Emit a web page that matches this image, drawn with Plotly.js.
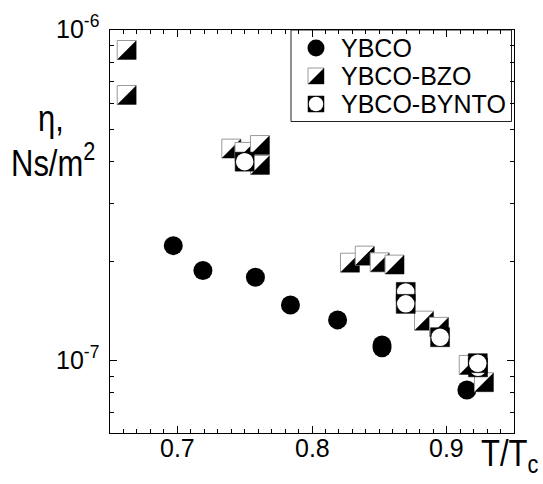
<!DOCTYPE html>
<html><head><meta charset="utf-8">
<script src="https://cdn.plot.ly/plotly-3.0.1.min.js"></script>
<style>html,body{margin:0;padding:0;background:#fff}</style>
</head><body>
<div id="chart" style="width:543px;height:484px"></div>
<script>
// ---- data ----
const seriesNames = ["YBCO", "YBCO-BZO", "YBCO-BYNTO"];
const ybcoT   = [0.697, 0.719, 0.758, 0.784, 0.819, 0.852, 0.852, 0.915];
const ybcoEta = [2.23e-7, 1.875e-7, 1.79e-7, 1.476e-7, 1.33e-7, 1.117e-7, 1.095e-7, 8.17e-8];
const bzoT    = [0.6624, 0.6624, 0.7401, 0.7499, 0.7614, 0.7614, 0.8282, 0.8392, 0.8503, 0.8613, 0.8832, 0.8943, 0.9164, 0.9277];
const bzoEta  = [8.70e-7, 6.36e-7, 4.38e-7, 4.28e-7, 4.49e-7, 3.91e-7, 1.98e-7, 2.08e-7, 1.985e-7, 1.954e-7, 1.323e-7, 1.267e-7, 9.72e-8, 8.62e-8];
const byntoT  = [0.7500, 0.8696, 0.8696, 0.8951, 0.9233, 0.9231];
const byntoEta= [4.0e-7, 1.616e-7, 1.487e-7, 1.179e-7, 9.56e-8, 9.84e-8];
const xTickVals = [0.7, 0.8, 0.9];
const xTickText = ["0.7", "0.8", "0.9"];
const yTickVals = [1e-7, 1e-6];
const yTickText = ["10<sup>-7</sup>", "10<sup>-6</sup>"];
const xTitle = "T/T<sub>c</sub>";
const yTitleLines = ["η,", "Ns/m<sup>2</sup>"];

// ---- geometry / style ----
const W = 543, H = 484;
const M = {l: 110, r: 29, t: 30, b: 51};
const PW = W - M.l - M.r, PH = H - M.t - M.b;
const XR = [0.65, 0.95];
const YR = [-7.218, -6.0];
const S = 19;           // data marker size
const LS = 16;          // legend marker size
const GRAY = '#9a9a9a';
const px2x = p => (p - M.l) / PW;          // px -> paper x
const px2y = p => 1 - (p - M.t) / PH;      // px -> paper y
const TITLE_FONT = '"Liberation Sans", Arial, sans-serif';
const TITLE_STRETCH = 1.2;                 // titles are drawn in a tall, narrow face

const yMinor = [];
for (let d = -8; d <= -7; d++) for (let m = 2; m <= 9; m++) yMinor.push(m * Math.pow(10, d));

const traces = [];
// YBCO circles
traces.push({x: ybcoT, y: ybcoEta, type: 'scatter', mode: 'markers', hoverinfo: 'skip',
  marker: {symbol: 'circle', size: S, color: '#000', line: {width: 0}}});

// half-filled squares (white square + black lower-right triangle)
function triShift(xv, yv, size, onMain) {
  const off = size / 6;
  if (onMain) {
    return [xv + off * (XR[1] - XR[0]) / PW, yv * Math.pow(10, -off * (YR[1] - YR[0]) / PH)];
  }
  return [xv + off / PW, yv - off / PH];
}
function halfSquare(xv, yv, size, axes) {
  const onMain = axes === 'main';
  const ax = onMain ? {} : {xaxis: 'x2', yaxis: 'y2'};
  const t = triShift(xv, yv, size, onMain);
  return [
    Object.assign({x: [xv], y: [yv], type: 'scatter', mode: 'markers', hoverinfo: 'skip', cliponaxis: false,
      marker: {symbol: 'square', size: size, color: '#fff', line: {color: GRAY, width: 1}}}, ax),
    Object.assign({x: [t[0]], y: [t[1]], type: 'scatter', mode: 'markers', hoverinfo: 'skip', cliponaxis: false,
      marker: {symbol: 'triangle-se', size: size * 2 / 1.8, color: '#000', line: {width: 0}}}, ax)
  ];
}
function circSquare(xv, yv, size, axes) {
  const ax = axes === 'main' ? {} : {xaxis: 'x2', yaxis: 'y2'};
  return [
    Object.assign({x: [xv], y: [yv], type: 'scatter', mode: 'markers', hoverinfo: 'skip', cliponaxis: false,
      marker: {symbol: 'square', size: size, color: '#000', line: {color: '#000', width: 0.5}}}, ax),
    Object.assign({x: [xv], y: [yv], type: 'scatter', mode: 'markers', hoverinfo: 'skip', cliponaxis: false,
      marker: {symbol: 'circle', size: size - 1.5, color: '#fff', line: {width: 0}}}, ax)
  ];
}
bzoT.forEach((t, i) => traces.push(...halfSquare(t, bzoEta[i], S, 'main')));
byntoT.forEach((t, i) => traces.push(...circSquare(t, byntoEta[i], S, 'main')));

// legend symbols
const legX = px2x(316);
const legRows = [48, 76, 104].map(px2y);
traces.push({x: [legX], y: [legRows[0]], xaxis: 'x2', yaxis: 'y2', type: 'scatter', mode: 'markers', hoverinfo: 'skip',
  marker: {symbol: 'circle', size: 17, color: '#000'}});
traces.push(...halfSquare(legX, legRows[1], LS, 'legend'));
traces.push(...circSquare(legX, legRows[2], LS, 'legend'));

const annotations = [
  {text: yTitleLines[0], xref: 'paper', yref: 'paper', x: px2x(51), y: px2y(119), xanchor: 'center', yanchor: 'middle',
   showarrow: false, font: {family: TITLE_FONT, size: 31, color: '#000'}},
  {text: yTitleLines[1], xref: 'paper', yref: 'paper', x: px2x(53), y: px2y(160), xanchor: 'center', yanchor: 'middle',
   showarrow: false, font: {family: TITLE_FONT, size: 31, color: '#000'}},
  {text: xTitle, xref: 'paper', yref: 'paper', x: px2x(479), y: px2y(456), xanchor: 'left', yanchor: 'middle',
   showarrow: false, font: {family: TITLE_FONT, size: 31, color: '#000'}}
];
const TITLE_COUNT = annotations.length;
seriesNames.forEach((n, i) => annotations.push({text: n, xref: 'paper', yref: 'paper', x: px2x(339), y: legRows[i],
  xanchor: 'left', yanchor: 'middle', showarrow: false, font: {size: 25, color: '#000'}}));
// tick labels (placed as text at the axis values)
xTickVals.forEach((v, i) => annotations.push({text: xTickText[i], xref: 'x', yref: 'paper', x: v, y: px2y(448),
  xanchor: 'center', yanchor: 'middle', showarrow: false, font: {size: 25, color: '#000'}}));
yTickVals.forEach((v, i) => annotations.push({text: yTickText[i], xref: 'paper', yref: 'y', x: px2x(101), y: Math.log10(v),
  yshift: 3, xanchor: 'right', yanchor: 'middle', showarrow: false, font: {size: 25, color: '#000'}}));

const axisCommon = {ticks: 'inside', ticklen: 7, tickwidth: 1, tickcolor: '#000', showline: true, linecolor: '#000',
  linewidth: 1, mirror: 'allticks', showgrid: false, zeroline: false, showticklabels: false};

const layout = {
  width: W, height: H, margin: M, paper_bgcolor: '#fff', plot_bgcolor: '#fff', showlegend: false,
  font: {family: '"Liberation Sans", Arial, sans-serif', color: '#000', size: 25},
  xaxis: Object.assign({}, axisCommon, {range: XR, tickmode: 'array', tickvals: xTickVals,
    minor: {ticks: 'inside', ticklen: 4, tickcolor: '#000', tickwidth: 1, dtick: 0.01, tick0: 0.65, showgrid: false}}),
  yaxis: Object.assign({}, axisCommon, {type: 'log', range: YR, tickmode: 'array', tickvals: yTickVals,
    minor: {ticks: 'inside', ticklen: 4, tickcolor: '#000', tickwidth: 1, tickmode: 'array', tickvals: yMinor, showgrid: false}}),
  xaxis2: {overlaying: 'x', anchor: 'y2', range: [0, 1], visible: false, fixedrange: true},
  yaxis2: {overlaying: 'y', anchor: 'x2', range: [0, 1], visible: false, fixedrange: true},
  shapes: [{type: 'rect', xref: 'paper', yref: 'paper', x0: px2x(291), x1: px2x(511.5), y0: px2y(121.5), y1: px2y(30),
    line: {color: '#222', width: 1}, fillcolor: '#fff', layer: 'below'}],
  annotations: annotations
};

Plotly.newPlot('chart', traces, layout, {displayModeBar: false, staticPlot: true}).then(gd => {
  // stretch the axis-title texts vertically to imitate the tall narrow face of the original
  gd.querySelectorAll('.annotation').forEach(g => {
    const idx = +g.getAttribute('data-index');
    if (idx >= TITLE_COUNT) return;
    const t = g.querySelector('text.annotation-text');
    if (!t) return;
    const b = t.getBBox();
    const cy = b.y + b.height / 2;
    t.setAttribute('transform', 'translate(0,' + (cy * (1 - TITLE_STRETCH)) + ') scale(1,' + TITLE_STRETCH + ')');
  });
});
</script>
</body></html>
